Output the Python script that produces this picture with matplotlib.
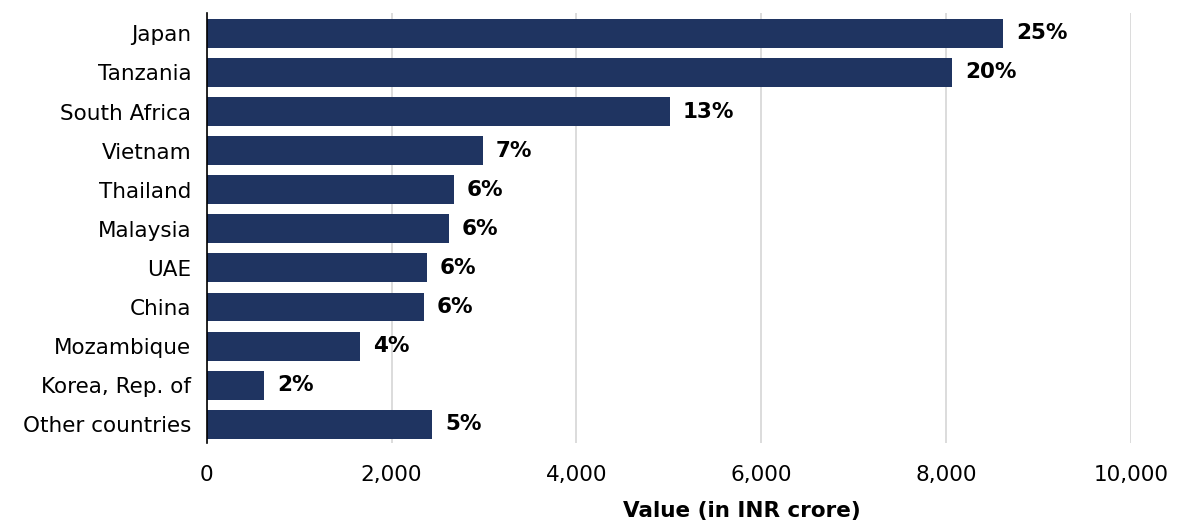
import matplotlib
matplotlib.use("Agg")
import matplotlib.pyplot as plt
from matplotlib.ticker import FuncFormatter
import matplotlib.transforms as mtransforms

countries = ["Japan", "Tanzania", "South Africa", "Vietnam", "Thailand", "Malaysia",
             "UAE", "China", "Mozambique", "Korea, Rep. of", "Other countries"]
values = [8615, 8063, 5012, 2990, 2675, 2621, 2383, 2350, 1658, 620, 2437]
shares = ["25%", "20%", "13%", "7%", "6%", "6%", "6%", "6%", "4%", "2%", "5%"]

plt.rcParams['font.family'] = ['DejaVu Sans']

fig = plt.figure(figsize=(11.77, 5.27), dpi=100)
ax = fig.add_axes([0.1756, 0.1594, 0.9609 - 0.1756, 0.9753 - 0.1594])

y = list(range(len(countries)))
ax.barh(y, values, height=0.74, color='#1f3461', zorder=3)

offset = mtransforms.offset_copy(ax.transData, fig=fig, x=13, y=0, units='dots')
for yi, v, s in zip(y, values, shares):
    ax.text(v, yi, s, transform=offset, ha='left', va='center',
            fontsize=15.5, fontweight='bold', color='black')

ax.set_xlim(0, 10000)
ax.set_ylim(len(countries) - 0.52, -0.52)
ax.set_yticks(y)
ax.set_yticklabels(countries)
ax.set_xticks(range(0, 10001, 2000))
ax.xaxis.set_major_formatter(FuncFormatter(lambda v, p: f'{int(v):,}'))
ax.tick_params(axis='both', length=0, labelsize=15.5, colors='black')
ax.tick_params(axis='x', pad=16)
ax.tick_params(axis='y', pad=11)

ax.grid(axis='x', color='#d9d9d9', linewidth=1.3, zorder=0)
for side in ['top', 'right', 'bottom']:
    ax.spines[side].set_visible(False)
ax.spines['left'].set_color('black')
ax.spines['left'].set_linewidth(1.2)
ax.spines['left'].set_zorder(4)

fig.text(0.630, 1 - 511 / 527, 'Value (in INR crore)', ha='center', va='center',
         fontsize=15.5, fontweight='bold')

fig.savefig('out.png', dpi=100)
